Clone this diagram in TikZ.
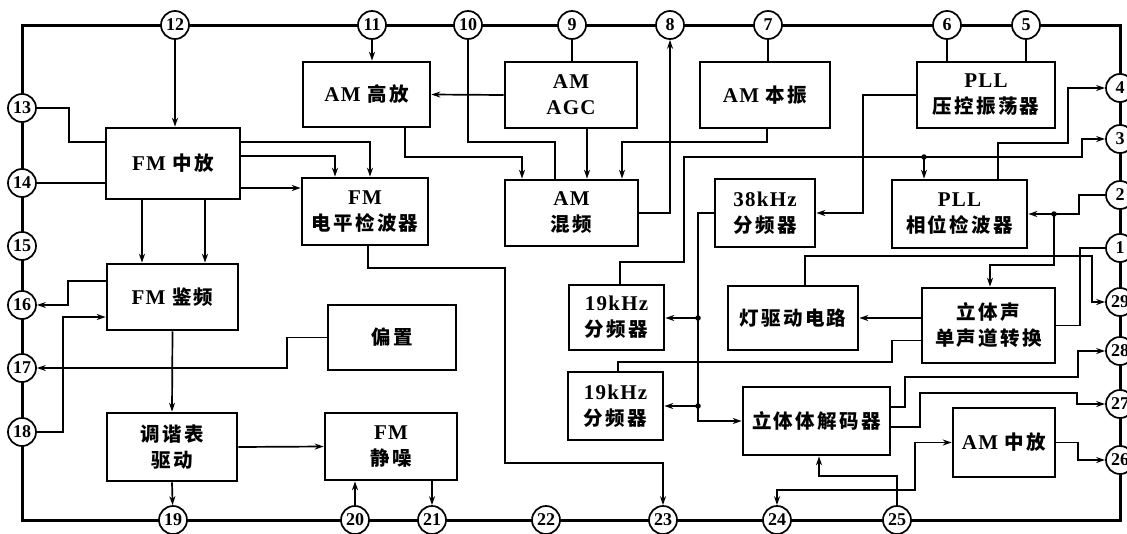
\documentclass[tikz,border=0pt]{standalone}
\usepackage{fontspec}
\setmainfont{Liberation Serif}[LetterSpace=6]
\newfontfamily\pinfont{Liberation Serif}
\newfontfamily\cjk{Noto Sans CJK SC}[LetterSpace=12]
\usetikzlibrary{arrows.meta}
\newcommand\C[1]{{\cjk\fontsize{19.5}{26}\selectfont #1}}
\newcommand\bx[6]{\node[box,minimum width={(#4)-(#2)},minimum height={(#5)-(#3)}] (#1) at ({((#2)+(#4))/2},{((#3)+(#5))/2}) {#6};}
\tikzset{
  box/.style={draw, line width=2.6pt, inner sep=0pt, align=center, font=\bfseries\fontsize{21}{26}\selectfont},
  pin/.style={circle, draw, fill=white, line width=1.7pt, minimum size=28pt, inner sep=0pt, font=\pinfont\bfseries\fontsize{18}{18}\selectfont},
  ln/.style={line width=1.7pt},
  arr/.style={ln, -{Stealth[length=9pt,width=6pt]}},
  arrb/.style={ln, {Stealth[length=9pt,width=6pt]}-{Stealth[length=9pt,width=6pt]}},
  jdot/.style={circle, fill, inner sep=0pt, minimum size=5.5pt}
}
\begin{document}
\begin{tikzpicture}[x=1pt,y=-1pt]
\useasboundingbox (0,0) rectangle (1127,533);
% chip outline
\draw[line width=3pt] (22,25) rectangle (1120,520);
% pins
\foreach \n/\x/\y in {12/175/25,11/372/25,10/468/25,9/572/25,8/670/25,7/768/25,6/947/25,5/1026/25,
  4/1120/88,3/1120/139,2/1120/195,1/1120/248,29/1120/302,28/1120/351,27/1120/404,26/1120/460,
  25/897/520,24/777/520,23/663/520,22/546/520,21/432/520,20/355/520,19/173/520,
  18/22/432,17/22/368,16/22/305,15/22/246,14/22/183,13/22/108}
  \node[pin] (p\n) at (\x,\y) {\n};
% blocks
\bx{amhf}{303}{62}{430}{127}{AM \C{高放}}
\bx{agc}{505}{62}{637}{128}{AM\\AGC}
\bx{amlo}{700}{62}{830}{128}{AM \C{本振}}
\bx{vco}{917}{62}{1055}{128}{PLL\\\C{压控振荡器}}
\bx{fmif}{106}{128}{240}{199}{FM \C{中放}}
\bx{fmlv}{302}{178}{428}{245}{FM\\\C{电平检波器}}
\bx{mix}{505}{180}{638}{246}{AM\\\C{混频}}
\bx{dtt}{715}{179}{815}{247}{38kHz\\\C{分频器}}
\bx{pd}{892}{180}{1027}{248}{PLL\\\C{相位检波器}}
\bx{fmdet}{107}{264}{238}{330}{FM \C{鉴频}}
\bx{bias}{328}{305}{456}{370}{\C{偏置}}
\bx{dna}{569}{285}{664}{350}{19kHz\\\C{分频器}}
\bx{dnb}{568}{372}{663}{440}{19kHz\\\C{分频器}}
\bx{lamp}{728}{286}{858}{350}{\C{灯驱动电路}}
\bx{sw}{922}{288}{1055}{363}{\C{立体声}\\\C{单声道转换}}
\bx{dec}{743}{387}{890}{455}{\C{立体体解码器}}
\bx{amif}{953}{408}{1055}{477}{AM \C{中放}}
\bx{tune}{107}{413}{237}{481}{\C{调谐表}\\\C{驱动}}
\bx{mute}{325}{413}{457}{480}{FM\\\C{静噪}}
% junctions
\coordinate (J1) at (698,318);
\coordinate (J2) at (698,406);
\coordinate (J3) at (924,157);
\coordinate (J4) at (1054,214);
\node[jdot] (j1) at (J1) {};
\node[jdot] (j2) at (J2) {};
\node[jdot] (j3) at (J3) {};
\node[jdot] (j4) at (J4) {};
% top connectors
\draw[arr] (p12) -- (p12 |- fmif.north);
\draw[arr] (p11) -- (p11 |- amhf.north);
\draw[ln] (p10) -- (468,142) -- (555,142) -- ([xshift=-16.5pt]mix.north);
\draw[arr] ([xshift=38.5pt]amhf.south) -- (405,157) -- (522,157) -- ([xshift=-49.5pt]mix.north);
\draw[arr] (agc.west) -- (amhf.east);
\draw[ln] (p9) -- (p9 |- agc.north);
\draw[arr] ([xshift=16pt]agc.south) -- ([xshift=15.5pt]mix.north);
\draw[arr] ([xshift=2pt]amlo.south) -- (767,142) -- (622,142) -- ([xshift=50.5pt]mix.north);
\draw[ln] (p7) -- (p7 |- amlo.north);
\draw[arr] (mix.east) -| (p8);
\draw[ln] (p6) -- (p6 |- vco.north);
\draw[ln] (p5) -- (p5 |- vco.north);
\draw[arr] (vco.west) -- (863,95) |- (dtt.east);
% divider chain
\draw[arr] (dtt.west) -- (698,213) |- (dec.west);
\draw[arr] (J1) -- (J1 -| dna.east);
\draw[arr] (J2) -- (J2 -| dnb.east);
\draw[arr] ([xshift=3.5pt]dna.north) -- (620,262) -- (684,262) -- (684,157) -- (1082,157) -- (1082,139) -- (p3);
\draw[arr] (J3) -- (J3 |- pd.north);
\draw[arr] ([xshift=38.5pt]pd.north) -- (998,143) -- (1068,143) -- (1068,88) -- (p4);
\draw[arr] (p2) -- (1079,195) -- (1079,214) -- (pd.east);
\draw[arr] (J4) -- (1054,265) -- (990,265) -- ([xshift=1.5pt]sw.north);
\draw[ln] (p1) -- (1080,248) |- (sw.east);
\draw[arr] ([xshift=12pt]lamp.north) -- (805,256) -- (1092,256) -- (1092,302) -- (p29);
\draw[arr] (sw.west |- lamp.east) -- (lamp.east);
\draw[ln] ([yshift=-15pt]sw.west) -- (892,340.5) -- (892,362) -- (618,362) -- ([xshift=2.5pt]dnb.north);
\draw[arr] ([yshift=14pt]dec.east) -- (905,407) -- (905,377) -- (1078,377) -- (1078,351) -- (p28);
\draw[arr] ([yshift=-6pt]dec.east) -- (920,427) -- (920,393) -- (1077,393) -- (1077,404) -- (p27);
\draw[arrb] (amif.west) -- (915,442.5) -- (915,490) -- (777,490) -- (p24);
\draw[arr] (p25) -- (897,476) -- (819,476) -- ([xshift=2.5pt]dec.south);
\draw[arr] (amif.east) -- (1078,442.5) -- (1078,460) -- (p26);
\draw[arr] ([xshift=3pt]fmlv.south) -- (368,268) -- (505,268) -- (505,463) -- (663,463) -- (p23);
% FM side
\draw[arr] ([yshift=21.5pt]fmif.east) -- (370,142) -- ([xshift=5pt]fmlv.north);
\draw[arr] ([yshift=7.5pt]fmif.east) -- (335,156) -- ([xshift=-30pt]fmlv.north);
\draw[arr] ([yshift=-24.5pt]fmif.east) -- ([yshift=23.5pt]fmlv.west);
\draw[arr] ([xshift=-31pt]fmif.south) -- ([xshift=-30.5pt]fmdet.north);
\draw[arr] ([xshift=32pt]fmif.south) -- ([xshift=32.5pt]fmdet.north);
\draw[ln] (p13) -- (69,108) -- (69,142) -- ([yshift=21.5pt]fmif.west);
\draw[ln] (p14) -- (p14 -| fmif.west);
\draw[arr] ([yshift=16pt]fmdet.west) -- (68,281) -- (68,305) -- (p16);
\draw[arr] (p18) -- (63,432) -- (63,317) -- ([yshift=-20pt]fmdet.west);
\draw[arr] (bias.west) -- (287,337.5) -- (287,368) -- (p17);
\draw[arr] (fmdet.south) -- (tune.north);
\draw[arr] (tune.south) -- (p19);
\draw[arr] (tune.east) -- (mute.west);
\draw[arr] (p20) -- (p20 |- mute.south);
\draw[arr] (p21 |- mute.south) -- (p21);
\end{tikzpicture}
\end{document}
